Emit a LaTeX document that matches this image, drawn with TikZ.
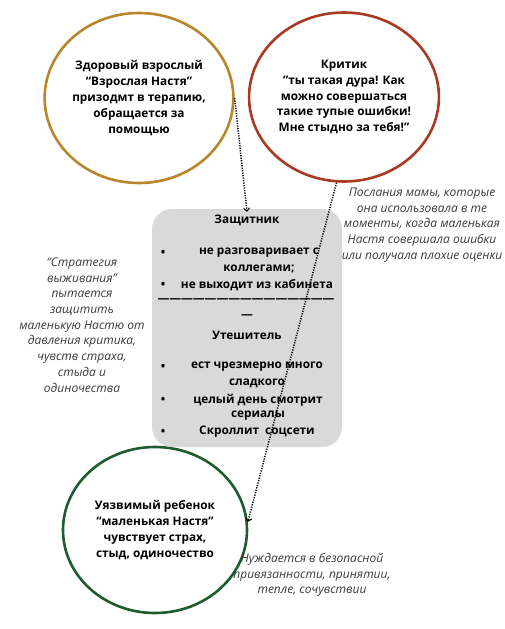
\documentclass[tikz,border=0pt]{standalone}
\usepackage{fontspec}
\setmainfont{Open Sans}
\usetikzlibrary{shapes.geometric,arrows.meta}
\definecolor{cgold}{HTML}{B8862B}
\definecolor{crust}{HTML}{A83A22}
\definecolor{cgreen}{HTML}{1E5B2E}
\definecolor{cbox}{HTML}{D9D9D9}
\definecolor{cnote}{HTML}{3A3A3A}
\tikzset{
  role/.style={ellipse, draw, line width=2.6pt, align=center, inner sep=0pt,
    font=\bfseries\fontsize{11.8}{15.8}\selectfont},
  boxtxt/.style={font=\bfseries\fontsize{11.8}{15.8}\selectfont, inner sep=0pt, align=center},
  note/.style={font=\itshape\fontsize{12}{15.7}\selectfont, text=cnote, align=center, inner sep=0pt},
  dotarrow/.style={line width=1.5pt, dash pattern=on 1.2pt off 1.3pt,
    -{Straight Barb[length=3pt,width=6pt,line width=1pt]}}
}
\begin{document}
\begin{tikzpicture}[x=1pt,y=-1pt]
\useasboundingbox (0,0) rectangle (504,629);
\node[role, draw=cgold, minimum width=188pt, minimum height=170pt] (adult) at (139,98)
  {Здоровый взрослый\\“Взрослая Настя”\\призодмт в терапию,\\обращается за\\помощью};
\node[role, draw=crust, minimum width=182pt, minimum height=169pt] (critic) at (344,97)
  {Критик\\”ты такая дура! Как\\можно совершаться\\такие тупые ошибки!\\Мне стыдно за тебя!”};
\node[role, draw=cgreen, minimum width=184pt, minimum height=166pt] (child) at (155,530)
  {Уязвимый ребенок\\“маленькая Настя”\\чувствует страх,\\стыд, одиночество};
\node[fill=cbox, rounded corners=20pt, minimum width=190pt, minimum height=238pt, inner sep=0pt] (box) at (247,328) {};
\node[boxtxt] (t1) at (247,220) {Защитник};
\node[boxtxt] (b1) at (163,253) {•};
\node[boxtxt] (l1) at (259,253) {не разговаривает с};
\node[boxtxt] (l2) at (259,269) {коллегами;};
\node[boxtxt] (b2) at (163,285) {•};
\node[boxtxt] (l3) at (257,285) {не выходит из кабинета};
\node[boxtxt] (d1) at (246,301) {———————————————};
\node[boxtxt] (d2) at (247,317) {—};
\node[boxtxt] (t2) at (247,335) {Утешитель};
\node[boxtxt] (b3) at (163,367) {•};
\node[boxtxt] (l4) at (257,367) {ест чрезмерно много};
\node[boxtxt] (l5) at (257,383) {сладкого};
\node[boxtxt] (b4) at (163,400) {•};
\node[boxtxt] (l6) at (258,400) {целый день смотрит};
\node[boxtxt] (l7) at (258,416) {сериалы};
\node[boxtxt] (b5) at (163,432) {•};
\node[boxtxt] (l8) at (257,432) {Скроллит\ \ соцсети};
\node[note] (n1) at (422,225) {Послания мамы, которые\\она использовала в те\\моменты, когда маленькая\\Настя совершала ошибки\\или получала плохие оценки};
\node[note] (n2) at (82,325) {“Стратегия\\выживания”\\пытается\\защитить\\маленькую Настю от\\давления критика,\\чувств страха,\\стыда и\\одиночества};
\node[note] (n3) at (312,575) {Нуждается в безопасной\\привязанности, принятии,\\тепле, сочувствии};
\draw[dotarrow] (adult.east) -- ([yshift=-3pt]box.north);
\draw[dotarrow] (critic.265) -- (child.5);
\end{tikzpicture}
\end{document}
